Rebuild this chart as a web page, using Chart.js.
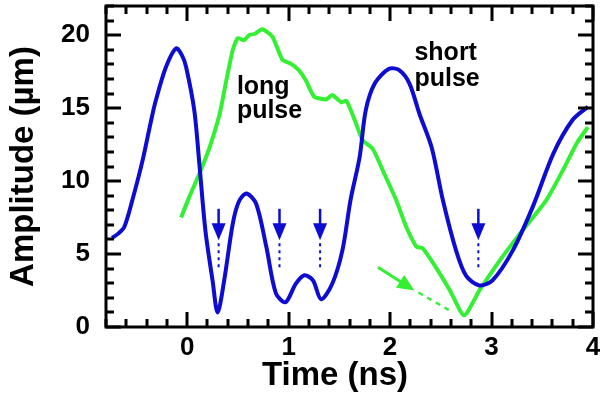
<!DOCTYPE html>
<html>
<head>
<meta charset="utf-8">
<script src="https://cdn.jsdelivr.net/npm/chart.js@4/dist/chart.umd.min.js"></script>
<style>
  html, body { margin: 0; padding: 0; background: #fff; }
</style>
</head>
<body>
<canvas id="pulse-chart" width="600" height="400"></canvas>
<script>
// short pulse trace (ns, µm)
const shortTime = [-0.74, -0.68, -0.62, -0.54, -0.44, -0.36, -0.31, -0.21, -0.11, -0.05, -0.01, 0.07, 0.12, 0.18, 0.25, 0.30, 0.365, 0.45, 0.51, 0.585, 0.68, 0.78, 0.875, 0.97, 1.07, 1.155, 1.24, 1.32, 1.43, 1.53, 1.61, 1.70, 1.76, 1.85, 1.99, 2.09, 2.19, 2.29, 2.41, 2.52, 2.65, 2.75, 2.88, 3.01, 3.21, 3.41, 3.61, 3.80, 3.95];
const shortAmp = [6.1, 6.4, 6.85, 8.7, 11.4, 14.0, 15.5, 17.8, 19.1, 18.6, 17.8, 14.85, 11.2, 6.6, 3.2, 1.0, 3.2, 7.1, 8.6, 9.15, 8.45, 5.5, 2.3, 1.7, 2.96, 3.55, 3.2, 1.9, 2.96, 5.25, 8.7, 11.65, 14.85, 16.7, 17.7, 17.6, 16.7, 14.6, 12.3, 8.7, 5.25, 3.5, 2.85, 3.2, 5.25, 8.3, 11.9, 14.2, 15.1];

// long pulse trace
const longTime = [-0.06, 0.02, 0.12, 0.22, 0.32, 0.38, 0.45, 0.50, 0.56, 0.61, 0.67, 0.74, 0.84, 0.94, 1.02, 1.10, 1.17, 1.25, 1.37, 1.43, 1.52, 1.57, 1.65, 1.73, 1.83, 1.93, 2.06, 2.16, 2.26, 2.32, 2.45, 2.59, 2.73, 2.88, 3.08, 3.28, 3.54, 3.70, 3.84, 3.95];
const longAmp = [7.5, 8.9, 10.5, 12.3, 14.6, 16.7, 19.0, 19.8, 19.65, 20.0, 20.1, 20.4, 19.9, 18.3, 18.05, 17.6, 16.9, 15.8, 15.6, 15.9, 15.4, 15.5, 14.2, 12.8, 12.2, 10.7, 8.7, 6.85, 5.5, 5.4, 4.1, 2.5, 0.8, 2.5, 4.55, 6.4, 8.7, 10.7, 12.6, 13.7];

const xTickLabels = [0, 1, 2, 3, 4];
const yTickLabels = [0, 5, 10, 15, 20];

// blue markers (ns) and their vertical extent (µm)
const markerTimes = [0.31, 0.91, 1.31, 2.87];
const markerTop = 8.1, markerTip = 5.95, markerEnd = 4.0;
// green arrow: start, tip, end of dashed extension
const greenArrow = [[1.88, 4.1], [2.24, 2.5], [2.62, 1.0]];

const BLUE = '#0c0cd2';
const GREEN = '#33f033';
const FONT = '"Liberation Sans", Arial, Helvetica, sans-serif';

const toPoints = (xs, ys) => xs.map((x, i) => ({ x: x, y: ys[i] }));

function arrowHead(ctx, x1, y1, x2, y2, len, half) {
  const a = Math.atan2(y2 - y1, x2 - x1);
  ctx.beginPath();
  ctx.moveTo(x2, y2);
  ctx.lineTo(x2 - len * Math.cos(a) + half * Math.sin(a), y2 - len * Math.sin(a) - half * Math.cos(a));
  ctx.lineTo(x2 - len * Math.cos(a) - half * Math.sin(a), y2 - len * Math.sin(a) + half * Math.cos(a));
  ctx.closePath();
  ctx.fill();
}

const framePlugin = {
  id: 'frame',
  afterDraw(chart) {
    const { ctx, chartArea: a, scales: { x, y } } = chart;
    ctx.save();
    ctx.strokeStyle = '#000';
    ctx.lineWidth = 3;
    ctx.lineCap = 'butt';
    // inward ticks on all four sides
    ctx.beginPath();
    for (let i = -4; i <= 20; i++) {
      const px = Math.round(x.getPixelForValue(i / 5));
      const len = i % 5 === 0 ? 15 : 8;
      ctx.moveTo(px, a.bottom); ctx.lineTo(px, a.bottom - len);
      ctx.moveTo(px, a.top); ctx.lineTo(px, a.top + len);
    }
    for (let v = 0; v <= 22; v++) {
      const py = Math.round(y.getPixelForValue(v));
      const len = v % 5 === 0 ? 15 : 8;
      ctx.moveTo(a.left, py); ctx.lineTo(a.left + len, py);
      ctx.moveTo(a.right, py); ctx.lineTo(a.right - len, py);
    }
    ctx.stroke();
    ctx.strokeRect(a.left, a.top, a.right - a.left, a.bottom - a.top);

    // blue markers
    ctx.strokeStyle = BLUE;
    ctx.fillStyle = BLUE;
    markerTimes.forEach(t => {
      const px = x.getPixelForValue(t);
      const top = y.getPixelForValue(markerTop);
      const tip = y.getPixelForValue(markerTip);
      const end = y.getPixelForValue(markerEnd);
      ctx.lineWidth = 2.5;
      ctx.setLineDash([]);
      ctx.beginPath(); ctx.moveTo(px, top); ctx.lineTo(px, tip - 8); ctx.stroke();
      arrowHead(ctx, px, top, px, tip, 17, 7);
      ctx.lineWidth = 2;
      ctx.setLineDash([3, 4]);
      ctx.beginPath(); ctx.moveTo(px, tip + 3); ctx.lineTo(px, end); ctx.stroke();
    });

    // green arrow
    const p = greenArrow.map(([t, v]) => [x.getPixelForValue(t), y.getPixelForValue(v)]);
    ctx.strokeStyle = GREEN;
    ctx.fillStyle = GREEN;
    ctx.lineWidth = 3;
    ctx.setLineDash([]);
    ctx.beginPath(); ctx.moveTo(p[0][0], p[0][1]); ctx.lineTo(p[1][0] - 8, p[1][1] - 5); ctx.stroke();
    arrowHead(ctx, p[0][0], p[0][1], p[1][0], p[1][1], 17, 7.5);
    ctx.lineWidth = 2.5;
    ctx.setLineDash([5, 5]);
    ctx.beginPath(); ctx.moveTo(p[1][0] + 4, p[1][1] + 2); ctx.lineTo(p[2][0], p[2][1]); ctx.stroke();
    ctx.setLineDash([]);

    // curve labels
    ctx.fillStyle = '#000';
    ctx.font = 'bold 25px ' + FONT;
    ctx.textAlign = 'left';
    ctx.textBaseline = 'alphabetic';
    const lx = x.getPixelForValue(0.49), ly = y.getPixelForValue(16.0);
    ctx.fillText('long', lx, ly);
    ctx.fillText('pulse', lx, ly + 24);
    const sx = x.getPixelForValue(2.24), sy = y.getPixelForValue(18.3);
    ctx.fillText('short', sx, sy);
    ctx.fillText('pulse', sx, sy + 26);

    // x axis title, centred a little left of the plot centre as in the figure
    ctx.font = 'bold 33px ' + FONT;
    ctx.textAlign = 'center';
    ctx.textBaseline = 'middle';
    ctx.fillText('Time (ns)', 335, 376);
    ctx.restore();
  }
};

const configPulse = {
  type: 'scatter',
  data: {
    datasets: [
      {
        label: 'short pulse',
        data: toPoints(shortTime, shortAmp),
        showLine: true,
        borderColor: BLUE,
        borderWidth: 4,
        pointRadius: 0,
        tension: 0.3
      },
      {
        label: 'long pulse',
        data: toPoints(longTime, longAmp),
        showLine: true,
        borderColor: GREEN,
        borderWidth: 4,
        pointRadius: 0,
        tension: 0.2
      }
    ]
  },
  options: {
    responsive: false,
    animation: false,
    layout: { padding: { left: 0, right: 7, top: 6, bottom: 0 } },
    plugins: {
      legend: { display: false },
      tooltip: { enabled: false }
    },
    scales: {
      x: {
        type: 'linear',
        min: -0.8,
        max: 4,
        grid: { display: false, drawTicks: false },
        border: { display: false },
        afterBuildTicks: (axis) => { axis.ticks = xTickLabels.map(v => ({ value: v })); },
        afterFit: (axis) => { axis.height = 73; axis.paddingLeft = 0; axis.paddingRight = 0; },
        ticks: { color: '#000', padding: 5, font: { family: FONT, size: 26, weight: 'bold' } },
        title: { display: false }
      },
      y: {
        min: 0,
        max: 22,
        grid: { display: false, drawTicks: false },
        border: { display: false },
        afterBuildTicks: (axis) => { axis.ticks = yTickLabels.map(v => ({ value: v })); },
        afterFit: (axis) => { axis.width = 106; axis.paddingTop = 0; axis.paddingBottom = 0; },
        ticks: { color: '#000', padding: 16, font: { family: FONT, size: 26, weight: 'bold' } },
        title: {
          display: true,
          text: 'Amplitude (µm)',
          color: '#000',
          padding: { top: 4, bottom: 0 },
          font: { family: FONT, size: 33, weight: 'bold' }
        }
      }
    }
  },
  plugins: [framePlugin]
};

let pulseChart = new Chart(document.getElementById('pulse-chart'), configPulse);
</script>
</body>
</html>
